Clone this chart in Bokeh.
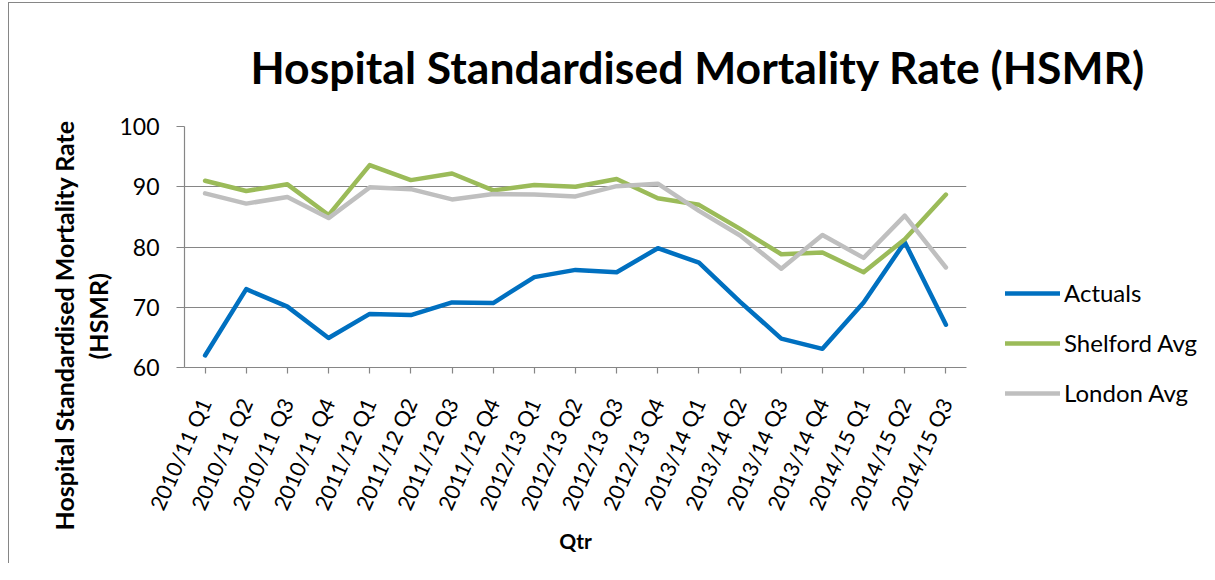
from bokeh.plotting import figure
from bokeh.models import FactorRange, Range1d, Legend, LegendItem, Title
from bokeh.embed import file_html
from bokeh.resources import INLINE

quarters = ["2010/11 Q1", "2010/11 Q2", "2010/11 Q3", "2010/11 Q4",
            "2011/12 Q1", "2011/12 Q2", "2011/12 Q3", "2011/12 Q4",
            "2012/13 Q1", "2012/13 Q2", "2012/13 Q3", "2012/13 Q4",
            "2013/14 Q1", "2013/14 Q2", "2013/14 Q3", "2013/14 Q4",
            "2014/15 Q1", "2014/15 Q2", "2014/15 Q3"]
actuals = [62.0, 73.0, 70.1, 64.9, 68.9, 68.7, 70.8, 70.7, 75.0, 76.2,
           75.8, 79.8, 77.4, 70.9, 64.8, 63.1, 70.8, 80.8, 67.1]
shelford = [91.0, 89.3, 90.4, 85.3, 93.6, 91.1, 92.2, 89.4, 90.3, 90.0,
            91.3, 88.1, 87.0, 83.0, 78.8, 79.1, 75.8, 81.3, 88.7]
london = [88.9, 87.2, 88.3, 84.8, 89.9, 89.6, 87.9, 88.8, 88.7, 88.4,
          90.1, 90.5, 86.0, 81.9, 76.4, 82.0, 78.2, 85.2, 76.6]
y_ticks = [60, 70, 80, 90, 100]
series_names = ["Actuals", "Shelford Avg", "London Avg"]
series_colors = ["#0070C0", "#9BBB59", "#BFBFBF"]

FONT = "Lato"
GRID = "#868686"

p = figure(x_range=FactorRange(*quarters), y_range=Range1d(60, 100),
           frame_width=782, frame_height=241,
           min_border_left=175, min_border_right=240,
           min_border_top=120, min_border_bottom=196,
           output_backend="svg", toolbar_location=None,
           title="Hospital Standardised Mortality Rate (HSMR)")
p.margin = (2, 0, 0, 8)
p.styles = {"border-top": "1px solid #868686", "border-left": "1px solid #868686"}

p.outline_line_color = None
p.background_fill_color = "white"
p.border_fill_color = "white"

p.title.text_font = FONT
p.title.text_font_size = "44.5px"
p.title.text_font_style = "bold"
p.title.text_color = "black"
p.title.align = "left"
p.title.offset = 66
p.title.standoff = 68

renderers = []
for vals, col in zip([actuals, shelford, london], series_colors):
    r = p.line(quarters, vals, line_color=col, line_width=4.5,
               line_cap="round", line_join="round")
    renderers.append(r)

legend = Legend(items=[LegendItem(label=n, renderers=[r]) for n, r in zip(series_names, renderers)],
                location=(39, -40))
legend.border_line_color = None
legend.background_fill_alpha = 0
legend.padding = 0
legend.margin = 0
legend.spacing = 21
legend.glyph_width = 55
legend.glyph_height = 20
legend.label_height = 20
legend.label_standoff = 4
legend.label_text_font = FONT
legend.label_text_font_size = "24px"
legend.label_text_color = "black"
p.add_layout(legend, "right")

p.xgrid.grid_line_color = None
p.ygrid.grid_line_color = GRID
p.ygrid.grid_line_width = 1.2

p.yaxis.ticker = y_ticks
for ax in (p.xaxis, p.yaxis):
    ax.axis_line_color = GRID
    ax.axis_line_width = 1.2
    ax.major_tick_line_color = GRID
    ax.major_tick_line_width = 1.2
    ax.minor_tick_line_color = None
    ax.major_tick_in = 0
    ax.major_label_text_font = FONT
    ax.major_label_text_font_size = "21.5px"
    ax.major_label_text_color = "black"
    ax.axis_label_text_font = FONT
    ax.axis_label_text_font_style = "bold"
    ax.axis_label_text_color = "black"

p.yaxis.major_tick_out = 8
p.yaxis.major_label_standoff = 17
p.yaxis.major_label_text_font_size = "23px"

# y-axis title, two lines, placed like the original (reading upward)
ytitle_lines = ["(HSMR)", "Hospital Standardised Mortality Rate"]
ytitle_offsets = [8, -163]
ytitle_standoffs = [8, -4]
for txt, off, so in zip(ytitle_lines, ytitle_offsets, ytitle_standoffs):
    t = Title(text=txt, align="left", offset=off, standoff=so,
              text_font=FONT, text_font_size="25px", text_font_style="bold",
              text_color="black")
    p.add_layout(t, "left")

p.xaxis.major_tick_out = 6
p.xaxis.major_label_orientation = 1.15
p.xaxis.major_label_standoff = 26
p.xaxis.axis_label = "Qtr"
p.xaxis.axis_label_text_font_size = "21px"
p.xaxis.axis_label_standoff = 6
p.xaxis.group_text_font_size = "0px"

open("out.html", "w").write(file_html(p, INLINE))
